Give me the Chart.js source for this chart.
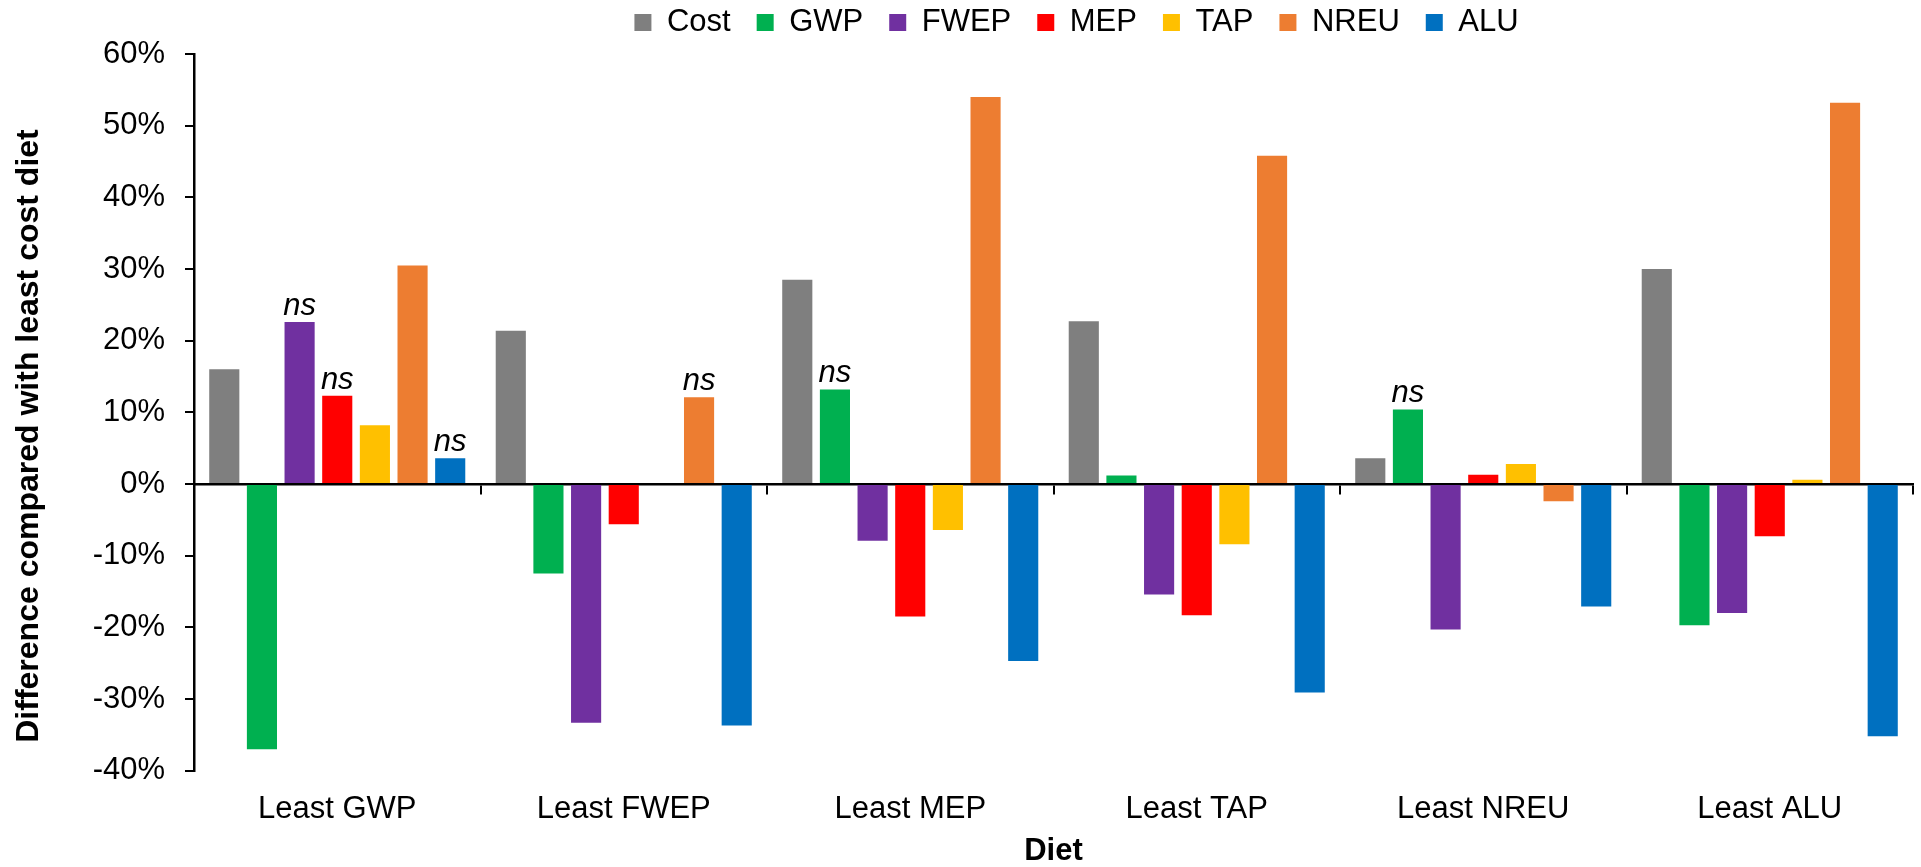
<!DOCTYPE html>
<html>
<head>
<meta charset="utf-8">
<title>Difference compared with least cost diet</title>
<script src="https://cdn.jsdelivr.net/npm/chart.js@4.4.1/dist/chart.umd.min.js"></script>
<style>
    html, body { margin: 0; padding: 0; background: #ffffff; }
    #wrap { position: relative; width: 1921px; height: 867px; }
</style>
</head>
<body>
<div id="wrap"><canvas id="dietChart"></canvas></div>
<script>
// Diet scenarios (x categories)
const diets = ['Least GWP', 'Least FWEP', 'Least MEP', 'Least TAP', 'Least NREU', 'Least ALU'];

// Indicators shown as bars in each group
const indicators = ['Cost', 'GWP', 'FWEP', 'MEP', 'TAP', 'NREU', 'ALU'];
const indicatorColors = ['#7F7F7F', '#00B050', '#7030A0', '#FF0000', '#FFC000', '#ED7D31', '#0070C0'];

// % difference compared with least cost diet
const cost = [16.0, 21.4, 28.5, 22.7, 3.6, 30.0];
const gwp  = [-37.0, -12.5, 13.2, 1.2, 10.4, -19.7];
const fwep = [22.6, -33.3, -7.9, -15.4, -20.3, -18.0];
const mep  = [12.3, -5.6, -18.5, -18.3, 1.3, -7.3];
const tap  = [8.2, 0, -6.4, -8.4, 2.8, 0.6];
const nreu = [30.5, 12.1, 54.0, 45.8, -2.4, 53.2];
const alu  = [3.6, -33.7, -24.7, -29.1, -17.1, -35.2];

// "ns" (not significant) markers, per indicator and diet
const costNs = [false, false, false, false, false, false];
const gwpNs  = [false, false, true, false, true, false];
const fwepNs = [true, false, false, false, false, false];
const mepNs  = [true, false, false, false, false, false];
const tapNs  = [false, false, false, false, false, false];
const nreuNs = [false, true, false, false, false, false];
const aluNs  = [true, false, false, false, false, false];

// y axis range and step (percent)
const yMin = -40;
const yMax = 60;
const yStep = 10;

const xTitle = 'Diet';
const yTitle = 'Difference compared with least cost diet';

const seriesValues = [cost, gwp, fwep, mep, tap, nreu, alu];
const seriesNs = [costNs, gwpNs, fwepNs, mepNs, tapNs, nreuNs, aluNs];

const FONT = '"Liberation Sans", Arial, Helvetica, sans-serif';
Chart.defaults.font.family = FONT;
Chart.defaults.color = '#000000';

// Draw italic "ns" above the flagged bars
const nsPlugin = {
    id: 'nsLabels',
    afterDatasetsDraw(chart) {
        const ctx = chart.ctx;
        ctx.save();
        ctx.font = 'italic 31px ' + FONT;
        ctx.fillStyle = '#000000';
        ctx.textAlign = 'center';
        ctx.textBaseline = 'alphabetic';
        seriesNs.forEach((flags, i) => {
            const meta = chart.getDatasetMeta(i);
            flags.forEach((isNs, j) => {
                if (!isNs) return;
                const bar = meta.data[j];
                ctx.fillText('ns', bar.x, Math.min(bar.y, bar.base) - 7);
            });
        });
        ctx.restore();
    }
};

// Rotated y axis title, placed like the original figure
const yTitlePlugin = {
    id: 'yTitle',
    afterDraw(chart) {
        const ctx = chart.ctx;
        ctx.save();
        ctx.translate(29, 436);
        ctx.rotate(-Math.PI / 2);
        ctx.font = 'bold 32px ' + FONT;
        ctx.fillStyle = '#000000';
        ctx.textAlign = 'center';
        ctx.textBaseline = 'middle';
        ctx.fillText(yTitle, 0, 0);
        ctx.restore();
    }
};

// Nudge the legend row into place (it keeps its item spacing)
const legendPlacePlugin = {
    id: 'legendPlace',
    afterLayout(chart) {
        const lg = chart.legend;
        if (!lg) return;
        lg.left += 23;
        lg.right += 23;
        lg.top = -19;
        lg.bottom = 60;
    }
};

const datasets = indicators.map((name, i) => ({
    label: name,
    data: seriesValues[i],
    backgroundColor: indicatorColors[i],
    borderWidth: 0,
    barPercentage: 0.8,
    categoryPercentage: 0.92
}));

new Chart(document.getElementById('dietChart').getContext('2d'), {
    type: 'bar',
    data: { labels: diets, datasets: datasets },
    options: {
        responsive: true,
        maintainAspectRatio: false,
        animation: false,
        devicePixelRatio: 1,
        layout: { padding: { top: 14, right: 8, bottom: 0, left: 0 } },
        plugins: {
            tooltip: { enabled: false },
            legend: {
                position: 'top',
                fullSize: false,
                maxHeight: 40,
                labels: {
                    boxWidth: 17,
                    boxHeight: 17,
                    padding: 26,
                    color: '#000000',
                    font: { size: 31 }
                }
            }
        },
        scales: {
            x: {
                type: 'category',
                position: 'bottom',
                offset: true,
                grid: { display: false, drawTicks: false },
                border: { display: false },
                ticks: { color: '#000000', font: { size: 31 }, padding: 20, maxRotation: 0, autoSkip: false },
                title: {
                    display: true,
                    text: xTitle,
                    color: '#000000',
                    font: { size: 31, weight: 'bold', lineHeight: 1 },
                    padding: 0
                },
                afterFit(scale) {
                    scale.height = 96.3;
                    scale.paddingLeft = 0;
                    scale.paddingRight = 0;
                }
            },
            xZero: {
                type: 'category',
                position: { y: 0 },
                offset: true,
                z: 1,
                grid: { offset: true, drawOnChartArea: false, drawTicks: true, tickLength: 9, color: '#000000', lineWidth: 2 },
                border: { display: true, color: '#000000', width: 2.5 },
                ticks: { display: false }
            },
            y: {
                min: yMin,
                max: yMax,
                z: 1,
                ticks: {
                    stepSize: yStep,
                    color: '#000000',
                    font: { size: 31 },
                    padding: 20,
                    callback: (v) => v + '%'
                },
                grid: { drawOnChartArea: false, drawTicks: true, tickLength: 9, color: '#000000', lineWidth: 2 },
                border: { display: true, color: '#000000', width: 2.5 },
                afterFit(scale) {
                    scale.width = 194;
                    scale.paddingTop = 0;
                    scale.paddingBottom = 0;
                }
            }
        }
    },
    plugins: [nsPlugin, yTitlePlugin, legendPlacePlugin]
});
</script>
</body>
</html>
